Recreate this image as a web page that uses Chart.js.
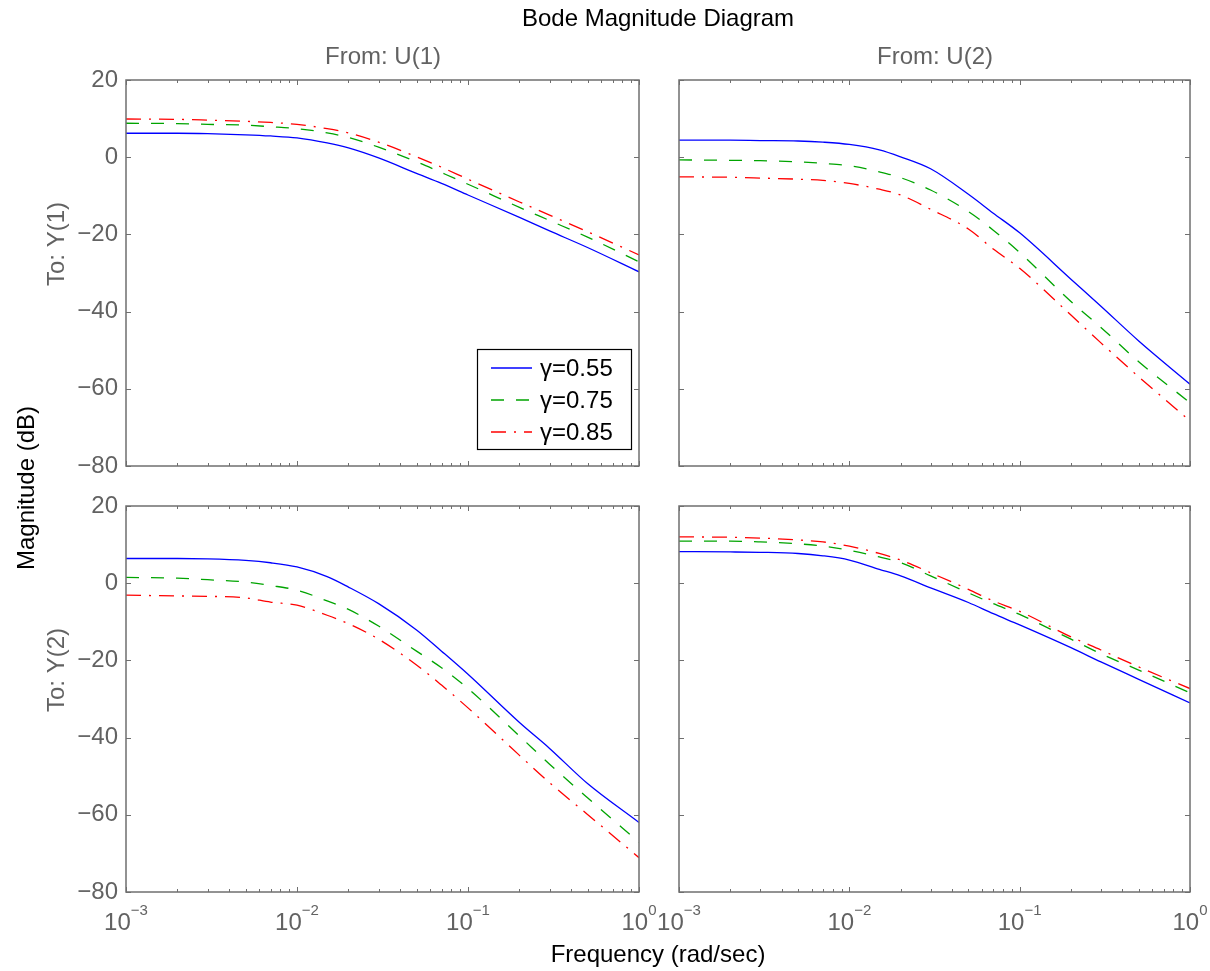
<!DOCTYPE html>
<html>
<head>
<meta charset="utf-8">
<title>Bode Magnitude Diagram</title>
<script src="https://cdn.jsdelivr.net/npm/chart.js@4.4.0/dist/chart.umd.min.js"></script>
<style>
    html, body { margin: 0; padding: 0; background: #fff; }
    #fig { position: relative; width: 1210px; height: 971px; }
    #fig canvas { position: absolute; left: 0; top: 0; }
</style>
</head>
<body>
<div id="fig">
    <canvas id="p11" width="1210" height="971"></canvas>
    <canvas id="p12" width="1210" height="971"></canvas>
    <canvas id="p21" width="1210" height="971"></canvas>
    <canvas id="p22" width="1210" height="971"></canvas>
</div>
<script>
// frequency grid (rad/sec)
const freq = [0.001, 0.002, 0.003, 0.005, 0.007, 0.01, 0.015, 0.02, 0.03, 0.05, 0.07, 0.1, 0.2, 0.3, 0.5, 1];

const gammaLabels = ["\u03b3=0.55", "\u03b3=0.75", "\u03b3=0.85"];

// magnitude (dB), output i from input j
const magY1U1 = [
    [6.2, 6.2, 6.1, 5.8, 5.5, 5.0, 3.7, 2.4, -0.2, -4.2, -6.8, -9.8, -15.6, -19.1, -23.4, -29.7],
    [8.8, 8.7, 8.5, 8.3, 7.9, 7.4, 6.3, 5.1, 2.6, -1.2, -4.0, -7.0, -13.0, -16.4, -20.7, -27.1],
    [9.9, 9.8, 9.6, 9.3, 9.0, 8.5, 7.4, 6.3, 3.9, 0.1, -2.6, -5.7, -11.6, -15.0, -19.3, -25.3]
];
const magY1U2 = [
    [4.4, 4.4, 4.3, 4.2, 3.9, 3.3, 1.9, 0.1, -3.0, -9.6, -14.5, -19.6, -31.6, -38.6, -47.6, -58.8],
    [-0.7, -0.8, -0.9, -1.2, -1.6, -2.2, -3.8, -5.3, -8.5, -14.1, -18.9, -24.7, -37.4, -44.1, -53.0, -63.6],
    [-5.1, -5.2, -5.4, -5.7, -6.0, -6.8, -8.3, -9.8, -13.5, -18.6, -23.8, -28.8, -40.9, -48.1, -56.9, -68.3]
];
const magY2U1 = [
    [6.4, 6.4, 6.3, 5.9, 5.3, 4.2, 1.7, -1.0, -5.3, -12.1, -17.6, -23.6, -36.1, -42.8, -51.9, -62.0],
    [1.5, 1.3, 0.9, 0.3, -0.6, -1.8, -4.6, -6.8, -11.1, -17.6, -21.9, -27.3, -39.6, -46.9, -55.6, -67.1],
    [-3.1, -3.3, -3.4, -3.8, -4.9, -5.7, -8.3, -10.5, -14.5, -21.2, -26.4, -32.3, -44.6, -51.7, -59.9, -71.1]
];
const magY2U2 = [
    [8.2, 8.1, 8.0, 7.7, 7.1, 6.0, 3.6, 1.9, -1.2, -5.0, -7.9, -10.8, -16.7, -20.4, -24.9, -31.0],
    [10.9, 10.9, 10.7, 10.2, 9.6, 8.5, 6.8, 5.3, 1.9, -2.5, -5.3, -8.1, -14.5, -18.3, -22.5, -28.4],
    [12.0, 11.9, 11.7, 11.2, 10.7, 9.6, 7.7, 6.0, 2.7, -1.6, -4.6, -7.3, -13.9, -17.3, -21.7, -27.3]
];

const yTicks = [-80, -60, -40, -20, 0, 20];
const decades = [-3, -2, -1, 0];

const figTitle = "Bode Magnitude Diagram";
const inputNames = ["From: U(1)", "From: U(2)"];
const outputNames = ["To: Y(1)", "To: Y(2)"];
const yAxisTitle = "Magnitude (dB)";
const xAxisTitle = "Frequency (rad/sec)";

const FONT = "'Liberation Sans', Arial, Helvetica, sans-serif";
const AXIS_GRAY = "#6f6f6f";
const LABEL_GRAY = "#626262";

const lineStyles = [
    { color: "#0000ff", dash: [] },
    { color: "#00a400", dash: [13, 12] },
    { color: "#ff0000", dash: [15, 8, 2, 8] }
];

function minusFmt(v) {
    return v < 0 ? "\u2212" + Math.abs(v) : String(v);
}

// box, inward ticks and decade labels for one subplot
const axesBox = {
    id: "axesBox",
    afterDatasetsDraw(chart, args, opts) {
        const { ctx, chartArea: a, scales } = chart;
        ctx.save();
        ctx.strokeStyle = AXIS_GRAY;
        ctx.lineWidth = 1;
        ctx.beginPath();
        yTicks.forEach(v => {
            const y = Math.round(scales.y.getPixelForValue(v)) + 0.5;
            ctx.moveTo(a.left, y); ctx.lineTo(a.left + 5, y);
            ctx.moveTo(a.right, y); ctx.lineTo(a.right - 5, y);
        });
        decades.forEach(d => {
            const x0 = Math.round(scales.x.getPixelForValue(Math.pow(10, d))) + 0.5;
            ctx.moveTo(x0, a.top); ctx.lineTo(x0, a.top + 5);
            ctx.moveTo(x0, a.bottom); ctx.lineTo(x0, a.bottom - 5);
            if (d === 0) return;
            for (let k = 2; k <= 9; k++) {
                const x = Math.round(scales.x.getPixelForValue(k * Math.pow(10, d))) + 0.5;
                ctx.moveTo(x, a.top); ctx.lineTo(x, a.top + 3);
                ctx.moveTo(x, a.bottom); ctx.lineTo(x, a.bottom - 3);
            }
        });
        ctx.stroke();
        ctx.lineWidth = 1.5;
        ctx.strokeRect(a.left, a.top, a.right - a.left, a.bottom - a.top);

        if (opts.xLabels) {
            ctx.fillStyle = LABEL_GRAY;
            ctx.textAlign = "left";
            ctx.textBaseline = "alphabetic";
            decades.forEach(d => {
                const x = scales.x.getPixelForValue(Math.pow(10, d));
                const exp = minusFmt(d);
                ctx.font = `24px ${FONT}`;
                const wb = ctx.measureText("10").width;
                ctx.font = `15px ${FONT}`;
                const we = ctx.measureText(exp).width;
                const x0 = x - (wb + we) / 2;
                ctx.font = `24px ${FONT}`;
                ctx.fillText("10", x0, a.bottom + 38);
                ctx.font = `15px ${FONT}`;
                ctx.fillText(exp, x0 + wb, a.bottom + 23);
            });
        }
        ctx.restore();
    }
};

const legendBox = {
    id: "legendBox",
    afterDraw(chart, args, opts) {
        if (!opts.show) return;
        const { ctx, chartArea: a } = chart;
        const w = 154, h = 100;
        const left = a.right - 8 - w, top = a.bottom - 17 - h;
        ctx.save();
        ctx.fillStyle = "#fff";
        ctx.fillRect(left, top, w, h);
        ctx.strokeStyle = "#000";
        ctx.lineWidth = 1.2;
        ctx.strokeRect(left + 0.5, top + 0.5, w, h);
        ctx.font = `24px ${FONT}`;
        ctx.textBaseline = "middle";
        ctx.textAlign = "left";
        chart.data.datasets.forEach((ds, i) => {
            const y = top + 19 + i * 32;
            ctx.strokeStyle = ds.borderColor;
            ctx.lineWidth = ds.borderWidth;
            ctx.setLineDash(ds.borderDash);
            ctx.beginPath();
            ctx.moveTo(left + 14, y);
            ctx.lineTo(left + 55, y);
            ctx.stroke();
            ctx.setLineDash([]);
            ctx.fillStyle = "#000";
            ctx.fillText(ds.label, left + 63, y + 1);
        });
        ctx.restore();
    }
};

function drawRotated(ctx, text, x, y, color) {
    ctx.save();
    ctx.translate(x, y);
    ctx.rotate(-Math.PI / 2);
    ctx.fillStyle = color;
    ctx.textAlign = "center";
    ctx.textBaseline = "alphabetic";
    ctx.fillText(text, 0, 0);
    ctx.restore();
}

const figureText = {
    id: "figureText",
    afterDraw(chart, args, opts) {
        if (!opts.show) return;
        const ctx = chart.ctx;
        ctx.save();
        ctx.font = `24px ${FONT}`;
        ctx.textAlign = "center";
        ctx.textBaseline = "alphabetic";
        ctx.fillStyle = "#000";
        ctx.fillText(figTitle, 658, 26);
        ctx.fillText(xAxisTitle, 658, 962);
        ctx.fillStyle = LABEL_GRAY;
        ctx.fillText(inputNames[0], 383, 64);
        ctx.fillText(inputNames[1], 935, 64);
        drawRotated(ctx, outputNames[0], 64, 244, LABEL_GRAY);
        drawRotated(ctx, outputNames[1], 64, 670, LABEL_GRAY);
        drawRotated(ctx, yAxisTitle, 34, 488, "#000");
        ctx.restore();
    }
};

function buildPanel(canvasId, mags, pad, opts) {
    const datasets = mags.map((vals, i) => ({
        label: gammaLabels[i],
        data: freq.map((f, k) => ({ x: f, y: vals[k] })),
        borderColor: lineStyles[i].color,
        borderDash: lineStyles[i].dash,
        borderWidth: 1.3,
        pointRadius: 0,
        fill: false,
        cubicInterpolationMode: "monotone"
    }));

    return new Chart(document.getElementById(canvasId), {
        type: "line",
        data: { datasets },
        options: {
            responsive: false,
            animation: false,
            events: [],
            devicePixelRatio: 1,
            layout: { padding: pad },
            plugins: {
                legend: { display: false },
                tooltip: { enabled: false },
                axesBox: { xLabels: opts.xLabels },
                legendBox: { show: opts.legend },
                figureText: { show: opts.text }
            },
            scales: {
                x: {
                    type: "logarithmic",
                    min: 0.001,
                    max: 1,
                    display: false
                },
                y: {
                    type: "linear",
                    min: -80,
                    max: 20,
                    display: opts.yLabels,
                    afterFit(scale) { scale.width = opts.yLabels ? 126 : 0; },
                    grid: { display: false, drawTicks: false },
                    border: { display: false },
                    ticks: {
                        stepSize: 20,
                        autoSkip: false,
                        padding: 8,
                        color: LABEL_GRAY,
                        font: { family: FONT, size: 24 },
                        callback: v => minusFmt(v)
                    }
                }
            }
        },
        plugins: [axesBox, legendBox, figureText]
    });
}

buildPanel("p11", magY1U1, { left: 0, top: 80, right: 571, bottom: 505 },
    { yLabels: true, xLabels: false, legend: true, text: true });
buildPanel("p12", magY1U2, { left: 679, top: 80, right: 20, bottom: 505 },
    { yLabels: false, xLabels: false, legend: false, text: false });
buildPanel("p21", magY2U1, { left: 0, top: 506, right: 571, bottom: 79 },
    { yLabels: true, xLabels: true, legend: false, text: false });
buildPanel("p22", magY2U2, { left: 679, top: 506, right: 20, bottom: 79 },
    { yLabels: false, xLabels: true, legend: false, text: false });
</script>
</body>
</html>
